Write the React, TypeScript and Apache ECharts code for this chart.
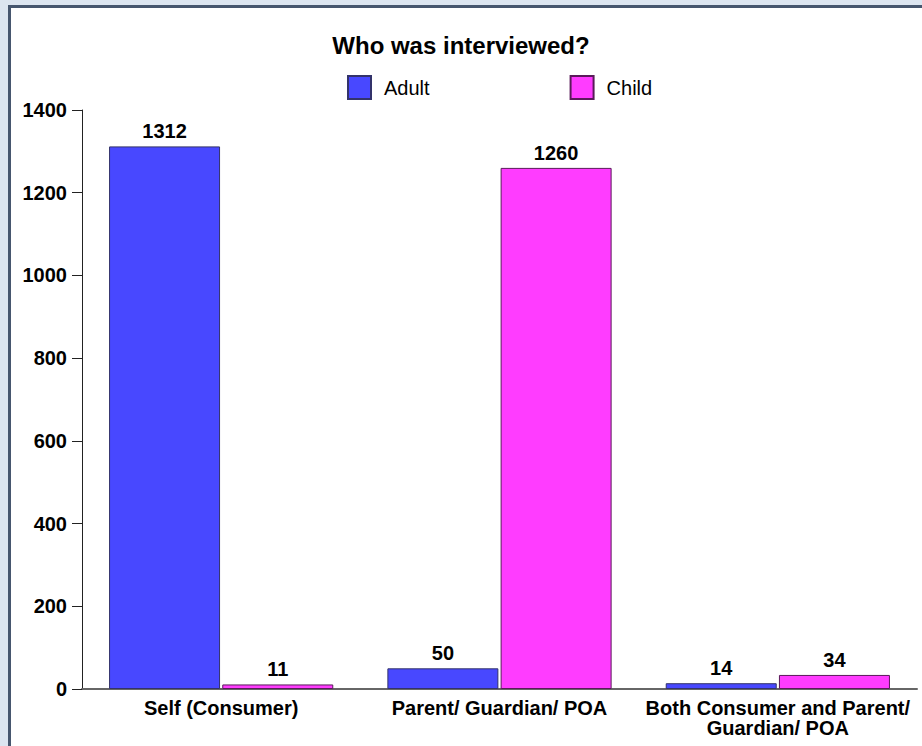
import React, { useEffect, useRef } from "react";
import * as echarts from "echarts";

const categories = ["Self (Consumer)", "Parent/ Guardian/ POA", "Both Consumer and Parent/\nGuardian/ POA"];
const adultValues = [1312, 50, 14];
const childValues = [11, 1260, 34];
const seriesNames = ["Adult", "Child"];
const yTicks = { min: 0, max: 1400, interval: 200 };

const FONT = "'Liberation Sans', Arial, sans-serif";

export default function App() {
  const ref = useRef<HTMLDivElement>(null);
  useEffect(() => {
    document.body.style.margin = "0";
    const chart = echarts.init(ref.current!, null, { renderer: "svg" });
    const labelStyle = {
      show: true,
      position: "top",
      distance: 5,
      fontSize: 20,
      fontWeight: "bold",
      color: "#000",
      fontFamily: FONT,
    };
    chart.setOption({
      animation: false,
      backgroundColor: "#dce5f0",
      graphic: [
        {
          type: "rect",
          z: -10,
          silent: true,
          shape: { x: 9.5, y: 6.5, width: 1000, height: 1000 },
          style: { fill: "#ffffff", stroke: "#46566e", lineWidth: 3 },
        },
      ],
      title: {
        text: "Who was interviewed?",
        left: "center",
        top: 28,
        textStyle: { fontSize: 24, fontWeight: "bold", color: "#000", fontFamily: FONT },
      },
      legend: {
        left: 347,
        top: 75,
        padding: 0,
        itemWidth: 23,
        itemHeight: 23,
        itemGap: 140,
        icon: "rect",
        textStyle: { fontSize: 20, color: "#000", fontFamily: FONT, padding: [0, 0, 0, 8] },
        data: seriesNames,
      },
      grid: { left: 82, right: 5, top: 110, bottom: 57, containLabel: false },
      xAxis: {
        type: "category",
        data: categories,
        axisLine: { show: true, lineStyle: { color: "#666", width: 2 } },
        axisTick: { show: false },
        axisLabel: {
          interval: 0,
          margin: 9,
          fontSize: 20,
          fontWeight: "bold",
          color: "#000",
          fontFamily: FONT,
          lineHeight: 20,
        },
      },
      yAxis: {
        type: "value",
        min: yTicks.min,
        max: yTicks.max,
        interval: yTicks.interval,
        splitLine: { show: false },
        axisLine: { show: true, lineStyle: { color: "#222", width: 1 } },
        axisTick: { show: true, length: 10, lineStyle: { color: "#222" } },
        axisLabel: {
          margin: 15,
          fontSize: 20,
          fontWeight: "bold",
          color: "#000",
          fontFamily: FONT,
          formatter: (v: number) => String(v),
        },
      },
      series: [
        {
          name: seriesNames[0],
          type: "bar",
          data: adultValues,
          barWidth: 111,
          barGap: "2%",
          itemStyle: { color: "#4848ff", borderColor: "#33336a", borderWidth: 1 },
          label: labelStyle,
        },
        {
          name: seriesNames[1],
          type: "bar",
          data: childValues,
          barWidth: 111,
          barGap: "2%",
          itemStyle: { color: "#ff3cff", borderColor: "#5a1a5a", borderWidth: 1 },
          label: labelStyle,
        },
      ],
    });
    return () => chart.dispose();
  }, []);
  return <div ref={ref} style={{ position: "fixed", left: 0, top: 0, width: 922, height: 746 }} />;
}
